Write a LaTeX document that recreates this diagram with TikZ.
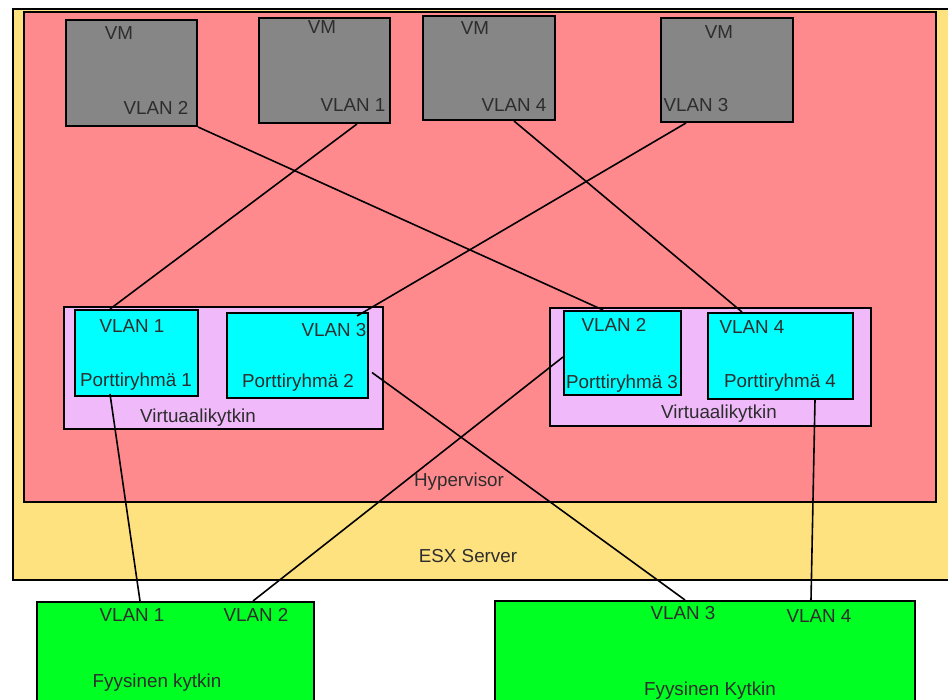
\documentclass[tikz,border=0pt]{standalone}
\usepackage{fontspec}
\setmainfont{Liberation Sans}
\usetikzlibrary{calc}
\definecolor{esxfill}{RGB}{255,226,128}
\definecolor{hypfill}{RGB}{255,138,142}
\definecolor{vmfill}{RGB}{134,134,134}
\definecolor{pgfill}{RGB}{0,255,255}
\definecolor{vswfill}{RGB}{240,186,250}
\definecolor{swfill}{RGB}{0,255,34}
\definecolor{txt}{RGB}{45,45,45}
\begin{document}
\begin{tikzpicture}[x=1pt,y=-1pt,
  box/.style={draw=black, line width=2pt, rectangle, inner sep=0pt, anchor=north west},
  lbl/.style={text=txt, font=\fontsize{18.8}{22}\selectfont, inner sep=0pt, text height=13.5pt, text depth=0pt, anchor=center},
  link/.style={draw=black, line width=1.6pt}]
\useasboundingbox (0,0) rectangle (948,700);
\begin{scope}
\clip (0,0) rectangle (948,700);
% server and hypervisor
\node[box, fill=esxfill, minimum width=950pt, minimum height=571pt] (esx) at (12,8) {};
\node[box, fill=hypfill, minimum width=912pt, minimum height=490pt] (hyp) at (23,11) {};
% virtual machines
\node[box, fill=vmfill, minimum width=131pt, minimum height=106pt] (vm1) at (65,19) {};
\node[box, fill=vmfill, minimum width=131pt, minimum height=105pt] (vm2) at (258,17) {};
\node[box, fill=vmfill, minimum width=132pt, minimum height=104pt] (vm3) at (422,15) {};
\node[box, fill=vmfill, minimum width=132pt, minimum height=104pt] (vm4) at (660,17) {};
% virtual switches and port groups
\node[box, fill=vswfill, minimum width=319pt, minimum height=122pt] (vs1) at (63,306) {};
\node[box, fill=pgfill, minimum width=123pt, minimum height=86pt] (pg1) at (74,309) {};
\node[box, fill=pgfill, minimum width=141pt, minimum height=85pt] (pg2) at (226,312) {};
\node[box, fill=vswfill, minimum width=321pt, minimum height=118pt] (vs2) at (549,307) {};
\node[box, fill=pgfill, minimum width=117pt, minimum height=84pt] (pg3) at (563,310) {};
\node[box, fill=pgfill, minimum width=145pt, minimum height=86pt] (pg4) at (707,312) {};
% physical switches
\node[box, fill=swfill, minimum width=277pt, minimum height=120pt] (sw1) at (36,601) {};
\node[box, fill=swfill, minimum width=420pt, minimum height=120pt] (sw2) at (494,600) {};
% links
\draw[link] (vm1.south east) -- ($(pg3.north west)+(40,0)$);
\draw[link] ($(vm2.south west)+(99,0)$) -- ($(pg1.north west)+(36,0)$);
\draw[link] ($(vm3.south west)+(92,0)$) -- ($(pg4.north west)+(35,0)$);
\draw[link] ($(vm4.south west)+(26,0)$) -- ($(pg2.north east)+(-12,4)$);
\draw[link] ($(pg1.south west)+(36,-3)$) -- ($(sw1.north west)+(104,0)$);
\draw[link] ($(pg3.north west)+(0,47)$) -- ($(sw1.north west)+(217,0)$);
\draw[link] ($(pg2.east)+(3,17)$) -- ($(sw2.north west)+(191,0)$);
\draw[link] ($(pg4.south west)+(108,0)$) -- ($(sw2.north west)+(317,0)$);
% labels
\node[lbl] (vm1a) at (119,33) {VM};
\node[lbl] (vm2a) at (322,27) {VM};
\node[lbl] (vm3a) at (475,28) {VM};
\node[lbl] (vm4a) at (719,32) {VM};
\node[lbl] (vm1b) at (156,108) {VLAN 2};
\node[lbl] (vm2b) at (353,105) {VLAN 1};
\node[lbl] (vm3b) at (514,105) {VLAN 4};
\node[lbl] (vm4b) at (696,105) {VLAN 3};
\node[lbl] (pg1a) at (132,326) {VLAN 1};
\node[lbl] (pg1b) at (136,380) {Porttiryhmä 1};
\node[lbl] (pg2a) at (334,330) {VLAN 3};
\node[lbl] (pg2b) at (298,381) {Porttiryhmä 2};
\node[lbl] (vs1a) at (198,416) {Virtuaalikytkin};
\node[lbl] (pg3a) at (614,325) {VLAN 2};
\node[lbl] (pg3b) at (622,382) {Porttiryhmä 3};
\node[lbl] (pg4a) at (752,327) {VLAN 4};
\node[lbl] (pg4b) at (780,381) {Porttiryhmä 4};
\node[lbl] (vs2a) at (719,412) {Virtuaalikytkin};
\node[lbl] (hypa) at (459,480) {Hypervisor};
\node[lbl] (esxa) at (468,556) {ESX Server};
\node[lbl] (sw1a) at (132,615) {VLAN 1};
\node[lbl] (sw1b) at (256,615) {VLAN 2};
\node[lbl] (sw1c) at (157,681) {Fyysinen kytkin};
\node[lbl] (sw2a) at (683,613) {VLAN 3};
\node[lbl] (sw2b) at (819,616) {VLAN 4};
\node[lbl] (sw2c) at (710,689) {Fyysinen Kytkin};
\end{scope}
\end{tikzpicture}
\end{document}
